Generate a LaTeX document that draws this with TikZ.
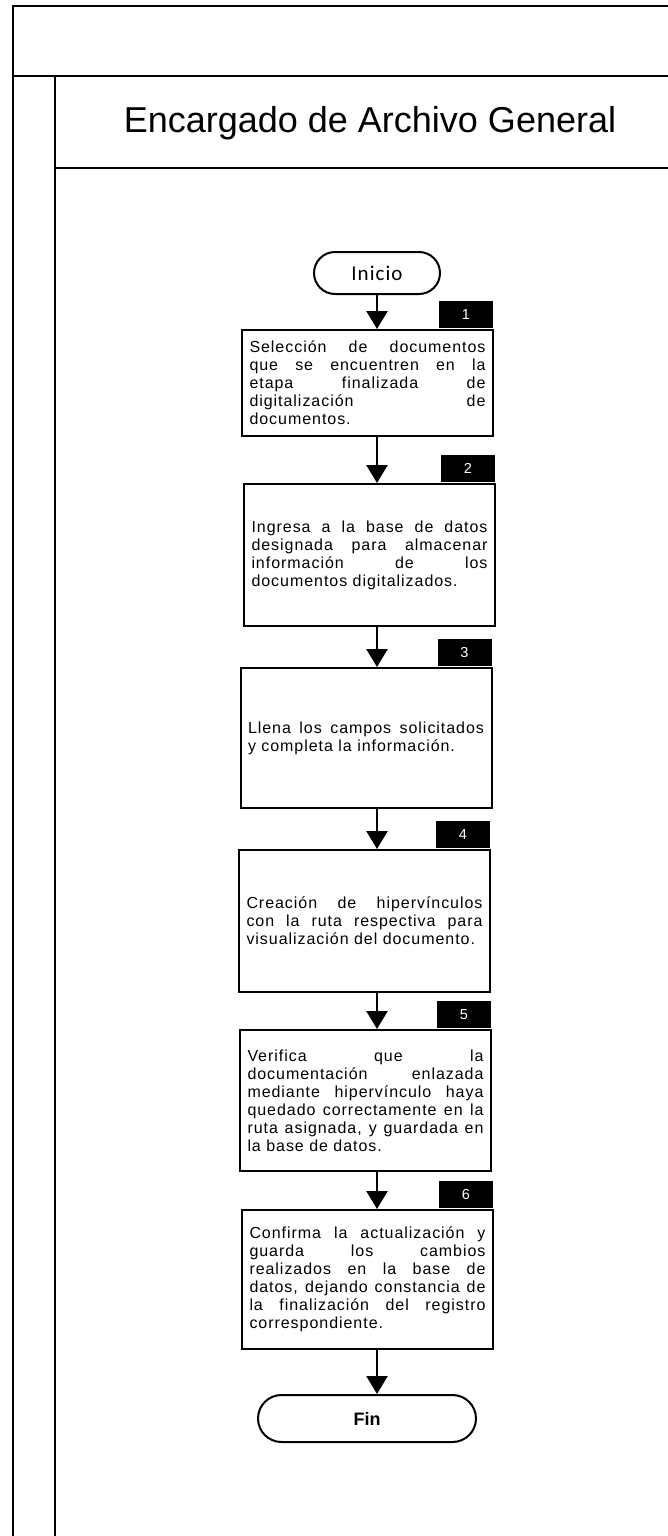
\documentclass[tikz,border=0pt]{standalone}
\usepackage{fontspec}
\setmainfont{Liberation Sans}
\newfontfamily\cajafont{Liberation Sans}[LetterSpace=6]
\newfontfamily\iniciofont{Carlito}[LetterSpace=5]
\usetikzlibrary{arrows.meta,shapes.misc}
\begin{document}
\begin{tikzpicture}[
    x=1pt, y=-1pt,
    line width=2pt,
    caja/.style={draw, text width=236pt, inner xsep=7.5pt, inner ysep=0pt, align=justify,
        font=\cajafont\fontsize{16}{18}\selectfont},
    paso/.style={fill=black, text=white, minimum width=54pt, minimum height=27pt,
        inner sep=0pt, anchor=south east, font=\fontsize{14.5}{14.5}\selectfont},
    terminal/.style={draw, rounded rectangle, inner sep=0pt},
    flecha/.style={line width=2.5pt, -{Triangle[length=18pt,width=21pt]}}
]
\useasboundingbox (0,0) rectangle (668,1536);
% marco
\draw (13,1536) -- (13,6) -- (668,6);
\draw (13,76) -- (668,76);
\draw (55,1536) -- (55,76);
\draw (55,168) -- (668,168);
\node[font=\fontsize{36}{36}\selectfont] (titulo) at (370,123) {Encargado de Archivo General};

\node[terminal, minimum width=126pt, minimum height=42pt,
    font=\iniciofont\fontsize{21}{21}\selectfont] (ini) at (377,273) {Inicio};

\node[caja, minimum height=106pt] (b1) at (367.5,383)
    {Selección de documentos\linebreak que se encuentren en la\linebreak etapa finalizada de\linebreak digitalización de\linebreak documentos.};
\node[caja, minimum height=142pt] (b2) at (369.5,555)
    {Ingresa a la base de datos\linebreak designada para almacenar\linebreak información de los\linebreak documentos digitalizados.};
\node[caja, minimum height=140pt] (b3) at (366,738)
    {Llena los campos solicitados\linebreak y completa la información.};
\node[caja, minimum height=142pt] (b4) at (364.5,921)
    {Creación de hipervínculos\linebreak con la ruta respectiva para\linebreak visualización del documento.};
\node[caja, minimum height=141pt] (b5) at (365.5,1100.5)
    {Verifica que la\linebreak documentación enlazada\linebreak mediante hipervínculo haya\linebreak quedado correctamente en la\linebreak ruta asignada, y guardada en\linebreak la base de datos.};
\node[caja, minimum height=139pt] (b6) at (367.5,1279.5)
    {Confirma la actualización y\linebreak guarda los cambios\linebreak realizados en la base de\linebreak datos, dejando constancia de\linebreak la finalización del registro\linebreak correspondiente.};

\node[terminal, minimum width=218pt, minimum height=47pt,
    font=\bfseries\fontsize{18}{18}\selectfont] (fin) at (367,1418.5) {Fin};

% numeros de paso
\foreach \i in {1,...,6}
    \node[paso] (n\i) at (b\i.north east) {\i};

% flechas
\draw[flecha] (ini.south) -- (ini.south |- b1.north);
\foreach \a/\b in {b1/b2, b2/b3, b3/b4, b4/b5, b5/b6, b6/fin}
    \draw[flecha] (ini |- \a.south) -- (ini |- \b.north);
\end{tikzpicture}
\end{document}
